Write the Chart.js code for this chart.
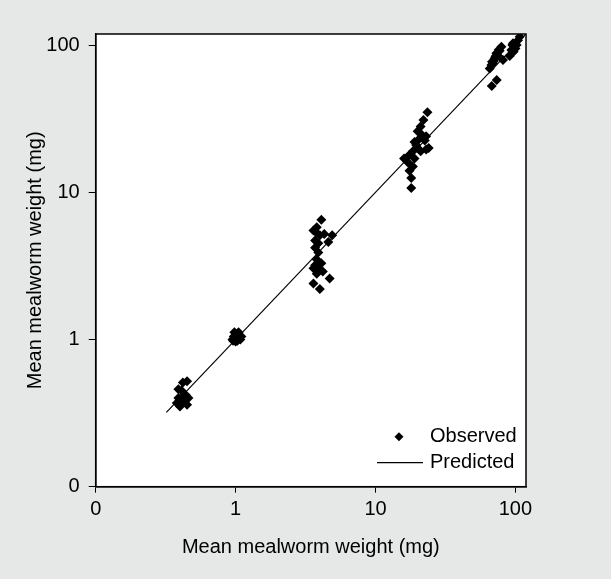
<!DOCTYPE html>
<html>
<head>
<meta charset="utf-8">
<script src="https://cdn.jsdelivr.net/npm/chart.js@4/dist/chart.umd.min.js"></script>
<style>
  html, body { margin: 0; padding: 0; background: #e6e7e7; }
  #wrap { width: 611px; height: 579px; }
</style>
</head>
<body>
<div id="wrap"><canvas id="chart" width="611" height="579"></canvas></div>
<script>
// observed means (x = mean weight, y = mean weight)
const obsX = [
  0.42, 0.45, 0.39, 0.41, 0.42, 0.39, 0.41, 0.45, 0.40, 0.43, 0.46, 0.44, 0.38,
  0.95, 0.97, 1.00, 1.02, 1.05, 1.08, 1.00, 0.98, 1.05, 1.10, 0.96, 1.03,
  4.1, 3.8, 3.6, 3.8, 4.0, 4.3, 4.9, 4.6, 3.7, 3.9, 3.7, 3.9, 3.8, 3.7, 3.6, 3.9, 3.8, 4.7, 3.6, 4.0, 4.1, 4.2,
  23.5, 22, 21, 20, 21.5, 23, 22.5, 24, 19.5, 18.5, 17.5, 19, 16, 17, 18.5, 17.5, 18, 18, 20, 21, 23, 19, 20.5,
  65.5, 67.4, 69.2, 71.1, 73.1, 77.2, 79.4, 81.5, 67.7, 73.5, 91, 93.5, 96.1, 98.8, 104.4, 107.3, 75, 70, 100, 95,
  68, 72, 76, 102, 97
];
const obsY = [
  0.51, 0.52, 0.46, 0.45, 0.41, 0.40, 0.37, 0.36, 0.35, 0.38, 0.40, 0.42, 0.37,
  1.00, 1.05, 1.10, 1.02, 1.07, 1.00, 0.97, 1.12, 1.12, 1.05, 0.98, 0.98,
  6.5, 5.8, 5.5, 5.3, 5.1, 5.2, 5.1, 4.6, 4.7, 4.5, 4.2, 3.9, 3.5, 3.2, 3.05, 3.0, 2.8, 2.6, 2.4, 2.2, 3.3, 2.9,
  35, 31, 28, 26, 24.5, 24, 22.5, 20, 21, 19, 18, 17, 17, 16, 15, 14, 12.5, 10.7, 20, 19, 19.5, 22, 23,
  69.5, 73.3, 75.2, 81.3, 88, 91.6, 97.6, 79.2, 52.7, 58, 84.3, 92.6, 103, 97.6, 108, 114, 85, 78, 95, 100,
  77, 84, 93, 100, 90
];
// predicted line y = x
const predX = [0.32, 119];
const predY = [0.32, 119];

const tickValues = [0.1, 1, 10, 100];
const tickLabels = ['0', '1', '10', '100'];
const seriesNames = ['Observed', 'Predicted'];
const axisTitle = 'Mean mealworm weight (mg)';

const FONT = '"Liberation Sans", Arial, sans-serif';

// grey page, white plot box with black frame
const boxPlugin = {
  id: 'box',
  beforeDraw(chart) {
    const { ctx, chartArea: a } = chart;
    ctx.save();
    ctx.fillStyle = '#e6e7e7';
    ctx.fillRect(0, 0, chart.width, chart.height);
    ctx.fillStyle = '#ffffff';
    ctx.fillRect(a.left, a.top, a.right - a.left, a.bottom - a.top);
    ctx.restore();
  },
  afterDraw(chart) {
    const { ctx, chartArea: a } = chart;
    ctx.save();
    ctx.strokeStyle = '#000';
    ctx.lineWidth = 1.5;
    ctx.strokeRect(a.left, a.top, a.right - a.left, a.bottom - a.top);
    ctx.restore();
  }
};

// legend in the lower right corner of the plot
const legendPlugin = {
  id: 'cornerLegend',
  afterDraw(chart) {
    const { ctx, chartArea: a } = chart;
    const tx = a.right - 96;
    const y1 = a.bottom - 50, y2 = a.bottom - 24;
    ctx.save();
    ctx.fillStyle = '#000';
    ctx.strokeStyle = '#000';
    Chart.helpers.drawPoint(ctx, { pointStyle: 'rectRot', radius: 4.5, borderWidth: 0 }, tx - 31, y1);
    ctx.beginPath();
    ctx.lineWidth = 1.2;
    ctx.moveTo(tx - 53, y2);
    ctx.lineTo(tx - 7, y2);
    ctx.stroke();
    ctx.font = '20px ' + FONT;
    ctx.textAlign = 'left';
    ctx.textBaseline = 'middle';
    ctx.fillText(seriesNames[0], tx, y1);
    ctx.fillText(seriesNames[1], tx, y2);
    ctx.restore();
  }
};

const scaleBase = (tickLen) => ({
  type: 'logarithmic',
  min: 0.1,
  max: 119,
  afterBuildTicks: s => { s.ticks = tickValues.map(v => ({ value: v })); },
  grid: { drawOnChartArea: false, drawTicks: true, tickLength: tickLen, color: '#000', lineWidth: 1 },
  border: { display: true, color: '#000', width: 1.5 },
  ticks: {
    color: '#000',
    font: { family: FONT, size: 20 },
    autoSkip: false,
    maxRotation: 0,
    callback: v => tickLabels[tickValues.indexOf(v)]
  }
});

const xScale = scaleBase(6);
xScale.ticks.padding = 5;
xScale.afterFit = s => { s.height = 92.3; };
xScale.title = { display: true, text: axisTitle, color: '#000', font: { family: FONT, size: 20 }, padding: { top: 0, bottom: 19.5 } };

const yScale = scaleBase(7);
yScale.ticks.padding = 9;
yScale.afterFit = s => { s.width = 95.7; };
yScale.title = { display: true, text: axisTitle, color: '#000', font: { family: FONT, size: 20 }, padding: { top: 23, bottom: 0 } };

new Chart(document.getElementById('chart'), {
  type: 'scatter',
  data: {
    datasets: [
      {
        label: seriesNames[1],
        data: predX.map((x, i) => ({ x: x, y: predY[i] })),
        showLine: true,
        borderColor: '#000',
        borderWidth: 1.2,
        pointRadius: 0,
        fill: false
      },
      {
        label: seriesNames[0],
        data: obsX.map((x, i) => ({ x: x, y: obsY[i] })),
        pointStyle: 'rectRot',
        pointRadius: 5,
        backgroundColor: '#000',
        borderColor: '#000',
        borderWidth: 0
      }
    ]
  },
  options: {
    responsive: false,
    devicePixelRatio: 1,
    animation: false,
    layout: { padding: { top: 34, right: 85, left: 0, bottom: 0 } },
    plugins: { legend: { display: false }, tooltip: { enabled: false } },
    scales: { x: xScale, y: yScale }
  },
  plugins: [boxPlugin, legendPlugin]
});
</script>
</body>
</html>
